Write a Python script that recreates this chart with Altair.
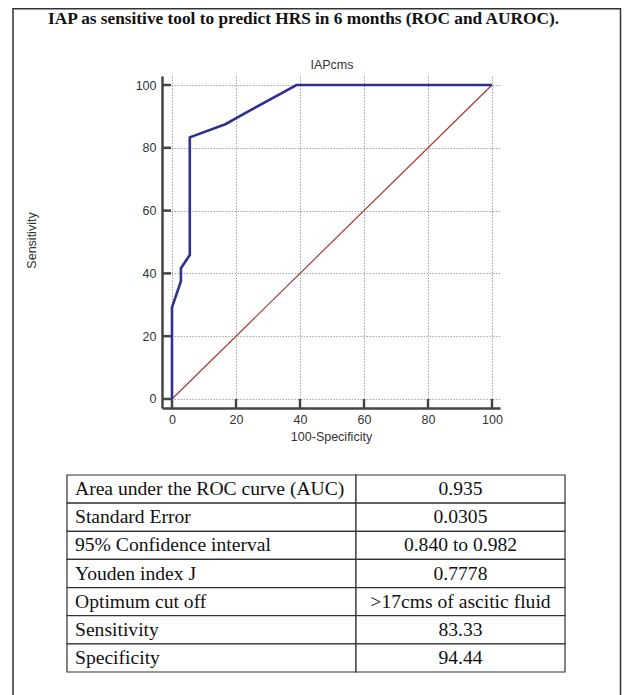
import altair as alt
import pandas as pd

# ---------------- data ----------------
main_title = "IAP as sensitive tool to predict HRS in 6 months (ROC and AUROC)."
plot_title = "IAPcms"
x_title = "100-Specificity"
y_title = "Sensitivity"

roc_fpr = [0, 0, 2.78, 2.78, 5.56, 5.56, 16.67, 24.0, 38.89, 100]
roc_tpr = [0, 29.17, 37.5, 41.67, 45.83, 83.33, 87.5, 91.67, 100, 100]
diag_x = [0, 100]
diag_y = [0, 100]
tick_values = [0, 20, 40, 60, 80, 100]

table_labels = [
    "Area under the ROC curve (AUC)",
    "Standard Error",
    "95% Confidence interval",
    "Youden index J",
    "Optimum cut off",
    "Sensitivity",
    "Specificity",
]
table_values = [
    "0.935",
    "0.0305",
    "0.840 to 0.982",
    "0.7778",
    ">17cms of ascitic fluid",
    "83.33",
    "94.44",
]

# ---------------- layout ----------------
W, H = 338, 332
SANS = "Liberation Sans"
SERIF = "Liberation Serif"
AX = "#444444"

roc_df = pd.DataFrame({"fpr": roc_fpr, "tpr": roc_tpr, "i": range(len(roc_fpr))})
diag_df = pd.DataFrame({"fpr": diag_x, "tpr": diag_y})
ticks_df = pd.DataFrame({"t": tick_values})
table_df = pd.DataFrame({"row": list(range(len(table_labels))),
                         "label": table_labels, "value": table_values})

xs = alt.Scale(domain=[-3.125, 102.5], nice=False, zero=False)
ys = alt.Scale(domain=[-2.87, 102.87], nice=False, zero=False)

x_axis = alt.Axis(values=tick_values, grid=True, gridDash=[1.5, 1.5], gridColor="#8c8c8c",
                  gridWidth=0.8, ticks=False, domainColor=AX, domainWidth=2.5,
                  labelFont=SANS, labelFontSize=12.5, labelColor="#333", labelPadding=5,
                  title=x_title, titleFont=SANS, titleFontSize=12.5, titleFontWeight="normal",
                  titleColor="#333", titlePadding=5)
y_axis = alt.Axis(values=tick_values, grid=True, gridDash=[1.5, 1.5], gridColor="#8c8c8c",
                  gridWidth=0.8, ticks=False, domainColor=AX, domainWidth=2.5,
                  labelFont=SANS, labelFontSize=12.5, labelColor="#333", labelPadding=6,
                  title=y_title, titleFont=SANS, titleFontSize=12.5, titleFontWeight="normal",
                  titleColor="#333", titleX=-131, titleY=164, titleAngle=270,
                  titleAlign="center", titleBaseline="middle")

diag = alt.Chart(diag_df).mark_line(color="#A33A32", strokeWidth=1.2).encode(
    x=alt.X("fpr:Q", scale=xs, axis=x_axis),
    y=alt.Y("tpr:Q", scale=ys, axis=y_axis),
)
roc = alt.Chart(roc_df).mark_line(color="#2E3192", strokeWidth=2.6).encode(
    x=alt.X("fpr:Q", scale=xs),
    y=alt.Y("tpr:Q", scale=ys),
    order=alt.Order("i:Q"),
)
xticks = alt.Chart(ticks_df).mark_rule(color=AX, strokeWidth=2.5).encode(
    x=alt.X("t:Q", scale=xs), y=alt.value(H), y2=alt.value(H - 9)
)
yticks = alt.Chart(ticks_df).mark_rule(color=AX, strokeWidth=2.5).encode(
    y=alt.Y("t:Q", scale=ys), x=alt.value(0), x2=alt.value(9)
)
plot = alt.layer(diag, roc, xticks, yticks)

# table
row_scale = alt.Scale(domain=list(range(len(table_labels))), range=[399, 596],
                      paddingInner=0, paddingOuter=0)
cell_l = alt.Chart(table_df).mark_rect(fill="white", stroke="#333", strokeWidth=1.2).encode(
    y=alt.Y("row:O", scale=row_scale, axis=None), x=alt.value(-95), x2=alt.value(194)
)
cell_r = alt.Chart(table_df).mark_rect(fill="white", stroke="#333", strokeWidth=1.2).encode(
    y=alt.Y("row:O", scale=row_scale, axis=None), x=alt.value(194), x2=alt.value(403)
)
txt_l = alt.Chart(table_df).mark_text(font=SERIF, fontSize=19.6, align="left",
                                      baseline="middle", color="#111").encode(
    y=alt.Y("row:O", scale=row_scale, axis=None), x=alt.value(-87), text="label:N"
)
txt_r = alt.Chart(table_df).mark_text(font=SERIF, fontSize=19.6, align="center",
                                      baseline="middle", color="#111").encode(
    y=alt.Y("row:O", scale=row_scale, axis=None), x=alt.value(298.5), text="value:N"
)
table = alt.layer(cell_l, cell_r, txt_l, txt_r)

# frame, main title, plot title
frame = alt.Chart(pd.DataFrame({"a": [0]})).mark_rect(
    fill=None, stroke="#333", strokeWidth=1.5
).encode(x=alt.value(-149), x2=alt.value(458.5), y=alt.value(-67.2), y2=alt.value(640))
title_txt = alt.Chart(pd.DataFrame({"t": [main_title]})).mark_text(
    font=SERIF, fontSize=17.3, fontWeight="bold", align="left", baseline="alphabetic",
    color="#111"
).encode(text="t:N", x=alt.value(-114), y=alt.value(-52))
sub_txt = alt.Chart(pd.DataFrame({"t": [plot_title]})).mark_text(
    font=SANS, fontSize=12.5, align="center", baseline="middle", color="#333"
).encode(text="t:N", x=alt.value(170), y=alt.value(-11))

chart = alt.layer(frame, title_txt, sub_txt, plot, table).resolve_scale(
    x="independent", y="independent"
).properties(
    width=W, height=H,
    autosize=alt.AutoSizeParams(type="none"),
    padding={"left": 154, "top": 68, "right": 122, "bottom": 287},
).configure_view(stroke=None)

chart.save("out.html", embed_options={"renderer": "svg", "actions": False})
